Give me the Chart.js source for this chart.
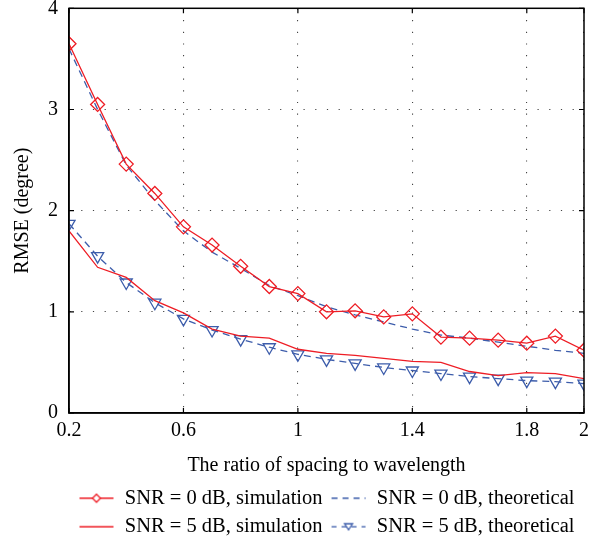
<!DOCTYPE html>
<html>
<head>
<meta charset="utf-8">
<script src="https://cdn.jsdelivr.net/npm/chart.js@4.4.0/dist/chart.umd.min.js"></script>
<style>
  html, body { margin: 0; padding: 0; background: #fff; }
  #wrap { width: 606px; height: 547px; }
</style>
</head>
<body>
<div id="wrap"><canvas id="myChart"></canvas></div>
<script>
// ratio of spacing to wavelength
const ratio = [0.2, 0.3, 0.4, 0.5, 0.6, 0.7, 0.8, 0.9, 1.0, 1.1, 1.2, 1.3, 1.4, 1.5, 1.6, 1.7, 1.8, 1.9, 2.0];
// RMSE (degree)
const snr0Sim = [3.65, 3.05, 2.46, 2.17, 1.84, 1.66, 1.45, 1.25, 1.18, 1.00, 1.01, 0.95, 0.98, 0.75, 0.74, 0.72, 0.69, 0.76, 0.62];
const snr0Theo = [3.60, 3.00, 2.45, 2.10, 1.80, 1.59, 1.43, 1.26, 1.16, 1.05, 0.97, 0.90, 0.83, 0.77, 0.74, 0.70, 0.66, 0.62, 0.59];
const snr5Sim = [1.80, 1.44, 1.34, 1.11, 0.99, 0.83, 0.76, 0.74, 0.63, 0.59, 0.57, 0.54, 0.51, 0.50, 0.41, 0.37, 0.40, 0.39, 0.34];
const snr5Theo = [1.87, 1.55, 1.29, 1.09, 0.93, 0.82, 0.73, 0.65, 0.58, 0.53, 0.49, 0.45, 0.42, 0.39, 0.36, 0.34, 0.32, 0.31, 0.29];
const xTicks = [0.2, 0.6, 1, 1.4, 1.8, 2];
const yTicks = [0, 1, 2, 3, 4];
const seriesNames = ['SNR = 0 dB, simulation', 'SNR = 0 dB, theoretical', 'SNR = 5 dB, simulation', 'SNR = 5 dB, theoretical'];

const RED = '#ee1d25';
const BLUE = '#3d5dab';
const FONT = "'Liberation Serif', 'DejaVu Serif', serif";

function pts(ys) {
  return ys.map((y, i) => ({x: ratio[i], y: y}));
}

// small legend symbol: line + marker
function symbol(color, dash, marker) {
  const c = document.createElement('canvas');
  c.width = 36; c.height = 14;
  const g = c.getContext('2d');
  g.strokeStyle = color;
  g.lineWidth = 1.3;
  g.setLineDash(dash);
  g.beginPath(); g.moveTo(1, 7); g.lineTo(35, 7); g.stroke();
  g.setLineDash([]);
  if (marker === 'diamond') {
    g.fillStyle = '#fff';
    g.beginPath(); g.moveTo(18, 3); g.lineTo(22, 7); g.lineTo(18, 11); g.lineTo(14, 7); g.closePath();
    g.fill(); g.stroke();
  } else if (marker === 'tri') {
    g.fillStyle = '#fff';
    g.beginPath(); g.moveTo(14, 4); g.lineTo(22, 4); g.lineTo(18, 10); g.closePath();
    g.fill(); g.stroke();
  }
  return c;
}

// frame + inward ticks
const boxPlugin = {
  id: 'box',
  afterDraw(chart) {
    const {ctx, chartArea: a, scales} = chart;
    ctx.save();
    ctx.strokeStyle = '#000';
    ctx.lineWidth = 1.5;
    ctx.strokeRect(a.left, a.top, a.right - a.left, a.bottom - a.top);
    ctx.lineWidth = 1.2;
    ctx.beginPath();
    xTicks.forEach(v => {
      const x = scales.x.getPixelForValue(v);
      ctx.moveTo(x, a.bottom); ctx.lineTo(x, a.bottom - 5);
      ctx.moveTo(x, a.top); ctx.lineTo(x, a.top + 5);
    });
    yTicks.forEach(v => {
      const y = scales.y.getPixelForValue(v);
      ctx.moveTo(a.left, y); ctx.lineTo(a.left + 5, y);
      ctx.moveTo(a.right, y); ctx.lineTo(a.right - 5, y);
    });
    ctx.stroke();
    ctx.restore();
  }
};

const ctx = document.getElementById('myChart');
const chart = new Chart(ctx, {
  type: 'line',
  data: {
    datasets: [
      {
        label: seriesNames[0], data: pts(snr0Sim),
        borderColor: RED, borderWidth: 1.3,
        pointStyle: 'rectRot', pointRadius: 7, pointBorderColor: RED,
        pointBackgroundColor: 'rgba(0,0,0,0)', pointBorderWidth: 1.3,
        legendSymbol: symbol(RED, [], 'diamond')
      },
      {
        label: seriesNames[1], data: pts(snr0Theo),
        borderColor: BLUE, borderWidth: 1.3, borderDash: [7, 5],
        pointRadius: 0,
        legendSymbol: symbol(BLUE, [6, 5], null)
      },
      {
        label: seriesNames[2], data: pts(snr5Sim),
        borderColor: RED, borderWidth: 1.3,
        pointRadius: 0,
        legendSymbol: symbol(RED, [], null)
      },
      {
        label: seriesNames[3], data: pts(snr5Theo),
        borderColor: BLUE, borderWidth: 1.3, borderDash: [7, 5],
        pointStyle: 'triangle', rotation: 180, pointRadius: 7, pointBorderColor: BLUE,
        pointBackgroundColor: 'rgba(0,0,0,0)', pointBorderWidth: 1.3,
        legendSymbol: symbol(BLUE, [5, 5], 'tri')
      }
    ]
  },
  options: {
    responsive: true,
    maintainAspectRatio: false,
    animation: false,
    layout: { padding: { top: 6, right: 22, left: 0, bottom: 0 } },
    scales: {
      x: {
        type: 'linear', min: 0.2, max: 2,
        afterBuildTicks: s => { s.ticks = xTicks.map(v => ({value: v})); },
        afterFit: s => { s.height = 67; s.paddingLeft = 0; s.paddingRight = 0; },
        ticks: {
          color: '#000', font: {family: FONT, size: 20}, padding: 6,
          maxRotation: 0, autoSkip: false,
          callback: v => String(v)
        },
        grid: { color: '#444', lineWidth: 1.1, drawTicks: false },
        border: { display: true, color: '#000', width: 1.5, dash: [1.2, 10.5] },
        title: { display: true, text: 'The ratio of spacing to wavelength', color: '#000',
                 font: {family: FONT, size: 20}, padding: {top: 4, bottom: 2} }
      },
      y: {
        min: 0, max: 4,
        afterBuildTicks: s => { s.ticks = yTicks.map(v => ({value: v})); },
        afterFit: s => { s.width = 69; s.paddingTop = 0; s.paddingBottom = 0; },
        ticks: { color: '#000', font: {family: FONT, size: 20}, padding: 11 },
        grid: { color: '#444', lineWidth: 1.1, drawTicks: false },
        border: { display: true, color: '#000', width: 1.5, dash: [1.2, 10.5] },
        title: { display: true, text: 'RMSE (degree)', color: '#000',
                 font: {family: FONT, size: 20}, padding: {top: 11, bottom: 0} }
      }
    },
    plugins: {
      legend: {
        position: 'bottom',
        fullSize: false,
        labels: {
          usePointStyle: true,
          pointStyleWidth: 36,
          padding: 8,
          color: '#000',
          font: {family: FONT, size: 20.5},
          generateLabels: c => c.data.datasets.map((d, i) => ({
            text: d.label, pointStyle: d.legendSymbol, datasetIndex: i,
            fontColor: '#000', lineWidth: 0, hidden: false
          }))
        }
      },
      tooltip: { enabled: false }
    }
  },
  plugins: [boxPlugin]
});
</script>
</body>
</html>
